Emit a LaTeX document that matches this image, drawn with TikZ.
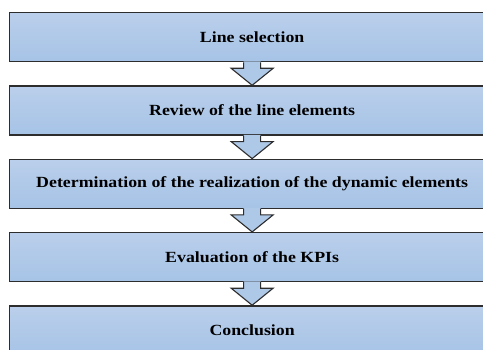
\documentclass[tikz,border=0pt]{standalone}
\usepackage{fontspec}
\setmainfont{Liberation Serif}[FakeStretch=1.15]
\usetikzlibrary{calc}
\definecolor{boxtop}{RGB}{186,207,235}
\definecolor{boxbot}{RGB}{166,195,230}
\definecolor{edge}{RGB}{45,45,45}
\tikzset{
  stepbox/.style={draw=edge, line width=1.3pt, top color=boxtop, bottom color=boxbot,
    minimum width=486pt, minimum height=49pt, anchor=north west, inner sep=0pt,
    font=\fontsize{15.5}{18}\selectfont\bfseries},
  arrowfill/.style={fill=boxbot!60!boxtop},
  arrowline/.style={draw=edge, line width=1.1pt, line join=miter},
}
\newcommand{\flowarrow}[2]{%
  \fill[arrowfill] ($(#1.south)+(-8.5pt,0.8pt)$) -- ($(#1.south)+(-8.5pt,-6pt)$) -- ($(#1.south)+(-21pt,-6pt)$)
     -- (#2.north) -- ($(#1.south)+(21pt,-6pt)$) -- ($(#1.south)+(8.5pt,-6pt)$) -- ($(#1.south)+(8.5pt,0.8pt)$) -- cycle;
  \draw[arrowline] ($(#1.south)+(-8.5pt,0pt)$) -- ($(#1.south)+(-8.5pt,-6pt)$) -- ($(#1.south)+(-21pt,-6pt)$)
     -- (#2.north) -- ($(#1.south)+(21pt,-6pt)$) -- ($(#1.south)+(8.5pt,-6pt)$) -- ($(#1.south)+(8.5pt,0pt)$);
}
\begin{document}
\begin{tikzpicture}[x=1pt,y=1pt]
\useasboundingbox (0,0) rectangle (483,349);
\begin{scope}
\clip (0,0) rectangle (483,349);
\node[stepbox] (b1) at (8.5,337) {Line selection};
\node[stepbox] (b2) at (8.5,263.7) {Review of the line elements};
\node[stepbox] (b3) at (8.5,190.4) {Determination of the realization of the dynamic elements};
\node[stepbox] (b4) at (8.5,117.1) {Evaluation of the KPIs};
\node[stepbox] (b5) at (8.5,43.8) {Conclusion};
\flowarrow{b1}{b2}
\flowarrow{b2}{b3}
\flowarrow{b3}{b4}
\flowarrow{b4}{b5}
\end{scope}
\end{tikzpicture}
\end{document}
